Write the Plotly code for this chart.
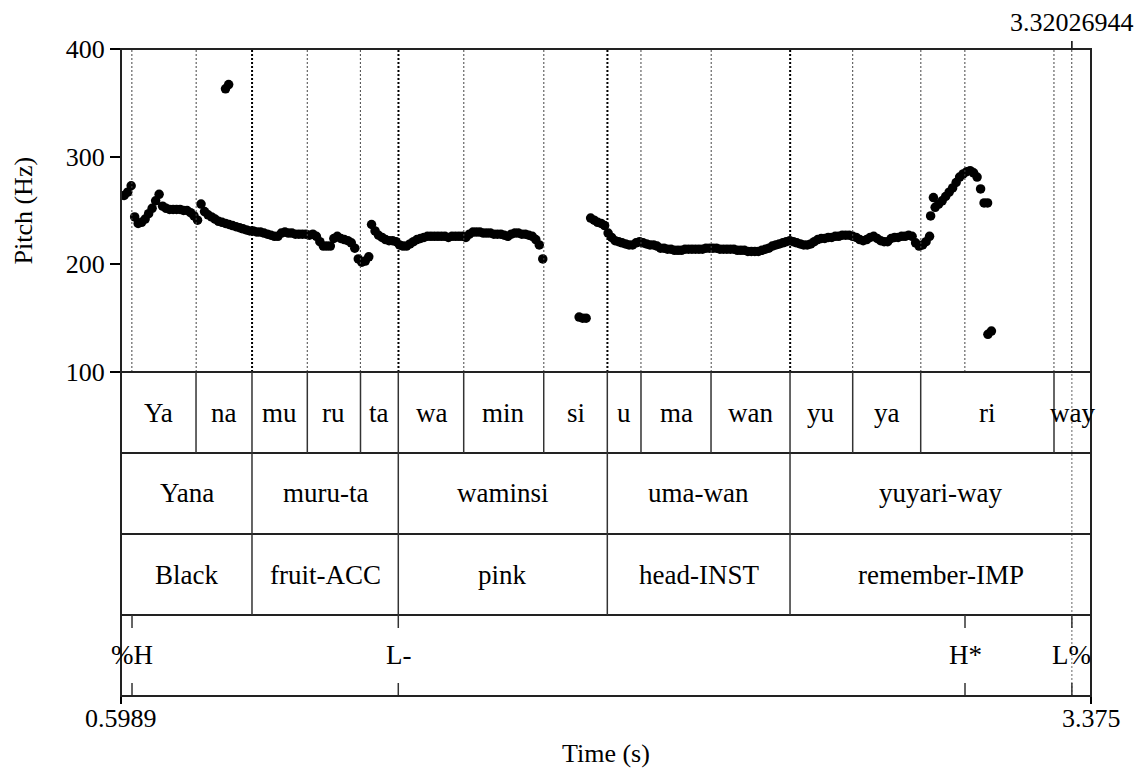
import plotly.graph_objects as go

# ---------------- data ----------------
T_START, T_END = 0.5989, 3.375
CURSOR = 3.32026944
FRAME_STEP = 0.01  # Praat pitch frame step (s)

# voiced pitch segments: (start time, Hz values per frame)
seg1_start = 0.608
seg1_hz = [264, 267, 273, 244, 238, 239, 242, 247, 252, 259,
           265, 254, 252, 251, 251, 251, 251, 250, 250, 248,
           245, 241, 256, 249, 246, 244, 242, 240, 239, 238,
           237, 236, 235, 234, 233, 232, 231, 231, 230, 230,
           229, 228, 227, 226, 226, 229, 230, 229, 229, 228,
           228, 228, 228, 227, 228, 226, 221, 217, 217, 217,
           224, 226, 224, 223, 222, 220, 215, 205, 202, 203, 207]
seg2_start = 1.316
seg2_hz = [237, 231, 227, 225, 223, 222, 222, 221, 218, 217,
           217, 219, 221, 223, 224, 225, 226, 226, 226, 226,
           226, 226, 225, 226, 226, 226, 226, 225, 228, 230,
           230, 230, 229, 229, 229, 228, 228, 228, 227, 226,
           228, 229, 229, 228, 228, 227, 226, 223, 218, 205]
seg3_start = 1.943
seg3_hz = [243, 241, 239, 238, 236, 229, 225, 222, 221, 220,
           219, 218, 218, 220, 221, 220, 219, 218, 218, 217,
           215, 215, 214, 214, 213, 213, 213, 214, 214, 214,
           214, 214, 214, 215, 215, 215, 215, 214, 214, 214,
           214, 214, 213, 213, 213, 212, 212, 212, 212, 213,
           214, 215, 217, 218, 219, 220, 221, 222, 221, 220,
           219, 218, 218, 219, 221, 223, 224, 224, 225, 225,
           226, 226, 227, 227, 227, 226, 225, 223, 222, 223,
           225, 226, 224, 222, 221, 221, 224, 225, 225, 226,
           226, 227, 226, 220, 217, 218, 221, 226]
seg4_start = 2.929
seg4_hz = [253, 256, 259, 263, 267, 271, 276, 281, 284, 286,
           287, 285, 281, 270, 257, 257]

# isolated pitch points (octave jumps etc.)
extra_t = [0.898, 0.907, 1.910, 1.920, 1.930, 2.916, 2.924, 3.080, 3.090]
extra_hz = [363, 367, 151, 150, 150, 245, 262, 135, 138]

# TextGrid tiers
syll_bounds = [0.5989, 0.8136, 0.9738, 1.1321, 1.2843, 1.3925, 1.5797, 1.8087,
               1.9907, 2.0871, 2.2875, 2.5136, 2.6930, 2.8876, 3.2691, 3.375]
syll_labels = ["Ya", "na", "mu", "ru", "ta", "wa", "min", "si", "u", "ma",
               "wan", "yu", "ya", "ri", "way"]
word_bounds = [0.5989, 0.9738, 1.3925, 1.9907, 2.5136, 3.375]
word_labels = ["Yana", "muru-ta", "waminsi", "uma-wan", "yuyari-way"]
gloss_bounds = word_bounds
gloss_labels = ["Black", "fruit-ACC", "pink", "head-INST", "remember-IMP"]
tone_times = [0.6304, 1.3925, 3.0144, 3.32026944]
tone_labels = ["%H", "L-", "H*", "L%"]

y_ticks = [100, 200, 300, 400]
x_ticks = [T_START, T_END]
x_ticktext = ["0.5989", "3.375"]

# ---------------- build ----------------
t_all, hz_all = [], []
for start, vals in [(seg1_start, seg1_hz), (seg2_start, seg2_hz),
                    (seg3_start, seg3_hz), (seg4_start, seg4_hz)]:
    for i, v in enumerate(vals):
        t_all.append(start + i * FRAME_STEP)
        hz_all.append(v)
t_all += extra_t
hz_all += extra_hz

FONT = "Liberation Serif, Times New Roman, serif"
W, H = 1141, 769
ML, MR, MT, MB = 121, 50, 49, 73
PH = H - MT - MB  # plot height px

pitch_bottom = 324 / PH
tier_h = pitch_bottom / 4
tier_edges = [pitch_bottom - k * tier_h for k in range(5)]  # top->bottom

fig = go.Figure()
fig.add_trace(go.Scatter(x=t_all, y=hz_all, mode="markers",
                         marker=dict(size=9.5, color="black", line=dict(width=0)),
                         showlegend=False, hoverinfo="skip"))

shapes = []
annotations = []

# dotted lines in pitch area for all boundaries
counts = {}
for b in syll_bounds[1:-1] + word_bounds[1:-1] + gloss_bounds[1:-1] + tone_times:
    key = round(b, 3)
    counts[key] = counts.get(key, 0) + 1
for key, c in counts.items():
    shapes.append(dict(type="line", xref="x", yref="y", x0=key, x1=key, y0=100, y1=400,
                       line=dict(color="#000" if c > 1 else "#444",
                                 width=2 if c > 1 else 1, dash="2px,2px")))

# cursor line through tiers and tick above frame
shapes.append(dict(type="line", xref="x", yref="paper", x0=CURSOR, x1=CURSOR,
                   y0=0, y1=pitch_bottom, line=dict(color="#666", width=1, dash="2px,2px")))
shapes.append(dict(type="line", xref="x", yref="paper", x0=CURSOR, x1=CURSOR,
                   y0=1, y1=1 + 8 / PH, line=dict(color="black", width=1.5)))

# tier horizontal separators
for y in tier_edges:
    shapes.append(dict(type="line", xref="paper", yref="paper", x0=0, x1=1, y0=y, y1=y,
                       line=dict(color="#222", width=2)))

def interval_tier(bounds, labels, k, size=27):
    top, bot = tier_edges[k], tier_edges[k + 1]
    for b in bounds[1:-1]:
        shapes.append(dict(type="line", xref="x", yref="paper", x0=b, x1=b, y0=bot, y1=top,
                           line=dict(color="#333", width=1.5)))
    for i, lab in enumerate(labels):
        annotations.append(dict(x=(bounds[i] + bounds[i + 1]) / 2, y=(top + bot) / 2,
                                xref="x", yref="paper", text=lab, showarrow=False,
                                xanchor="center", yanchor="middle",
                                font=dict(family=FONT, size=size, color="black")))

interval_tier(syll_bounds, syll_labels, 0)
interval_tier(word_bounds, word_labels, 1)
interval_tier(gloss_bounds, gloss_labels, 2)

# point tier
top, bot = tier_edges[3], tier_edges[4]
tk = 13 / PH
for t, lab in zip(tone_times, tone_labels):
    shapes.append(dict(type="line", xref="x", yref="paper", x0=t, x1=t, y0=top - tk, y1=top,
                       line=dict(color="#333", width=1.5)))
    shapes.append(dict(type="line", xref="x", yref="paper", x0=t, x1=t, y0=bot, y1=bot + tk,
                       line=dict(color="#333", width=1.5)))
    annotations.append(dict(x=t, y=(top + bot) / 2 + 1 / PH, xref="x", yref="paper", text=lab,
                            showarrow=False, xanchor="center", yanchor="middle",
                            font=dict(family=FONT, size=27, color="black")))

# outer frame
shapes.append(dict(type="rect", xref="paper", yref="paper", x0=0, x1=1, y0=0, y1=1,
                   line=dict(color="#222", width=2)))

# x tick labels (placed just under the ticks)
for tv, tt in zip(x_ticks, x_ticktext):
    annotations.append(dict(x=tv, y=-(718 - (H - MB)) / PH, xref="x", yref="paper",
                            text=tt, showarrow=False, xanchor="center", yanchor="middle",
                            font=dict(family=FONT, size=26, color="black")))

# texts: axis titles and cursor label
annotations.append(dict(x=(23 - ML) / 970, y=(1 + pitch_bottom) / 2, xref="paper", yref="paper",
                        text="Pitch (Hz)", textangle=-90, showarrow=False,
                        xanchor="center", yanchor="middle",
                        font=dict(family=FONT, size=26, color="black")))
annotations.append(dict(x=0.5, y=-(753 - (H - MB)) / PH, xref="paper", yref="paper",
                        text="Time (s)", showarrow=False, xanchor="center", yanchor="middle",
                        font=dict(family=FONT, size=26, color="black")))
annotations.append(dict(x=CURSOR, y=1 + (MT - 22) / PH, xref="x", yref="paper",
                        text=f"{CURSOR:.8f}", showarrow=False, xanchor="center", yanchor="middle",
                        font=dict(family=FONT, size=26, color="black")))

fig.update_layout(
    width=W, height=H,
    margin=dict(l=ML, r=MR, t=MT, b=MB),
    paper_bgcolor="white", plot_bgcolor="white",
    font=dict(family=FONT, size=26, color="black"),
    shapes=shapes, annotations=annotations,
    xaxis=dict(range=[T_START, T_END], anchor="free", position=0, showgrid=False,
               zeroline=False, showline=False, tickvals=x_ticks, showticklabels=False,
               ticks="outside", ticklen=7, tickwidth=1.5, tickcolor="black"),
    yaxis=dict(range=[100, 400], domain=[pitch_bottom, 1], showgrid=False, zeroline=False,
               showline=False, tickvals=y_ticks, ticks="outside", ticklen=10, tickwidth=1.5,
               tickcolor="black", tickfont=dict(family=FONT, size=26, color="black")),
)

fig.write_html("out.html")
